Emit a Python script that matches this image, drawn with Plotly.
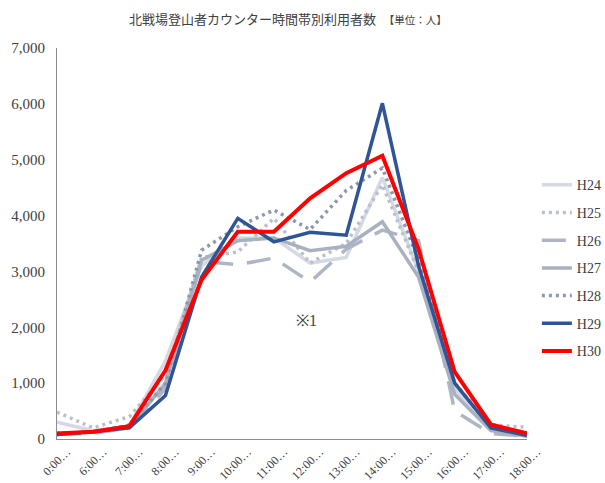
import plotly.graph_objects as go

categories = ["0:00…", "6:00…", "7:00…", "8:00…", "9:00…", "10:00…", "11:00…",
              "12:00…", "13:00…", "14:00…", "15:00…", "16:00…", "17:00…", "18:00…"]

H24 = [300, 150, 230, 1400, 3100, 3600, 3600, 3150, 3250, 4680, 3000, 900, 200, 60]
H25 = [480, 200, 400, 1150, 3250, 3350, 3950, 3150, 3500, 4550, 3000, 1000, 250, 210]
H26 = [80, 100, 200, 900, 3180, 3120, 3240, 2810, 3400, 3740, 3550, 500, 100, 50]
H27 = [100, 130, 200, 1000, 3200, 3550, 3600, 3370, 3450, 3890, 2900, 800, 150, 50]
H28 = [100, 120, 250, 1000, 3380, 3800, 4100, 3750, 4450, 4850, 3200, 1000, 200, 80]
H29 = [80, 130, 200, 780, 2900, 3950, 3530, 3700, 3650, 6010, 3100, 1000, 200, 60]
H30 = [100, 130, 230, 1230, 2850, 3710, 3710, 4310, 4760, 5070, 3400, 1200, 260, 100]

series = [
    ("H24", H24, "#d5d9e2", "solid", 3.5),
    ("H25", H25, "#b9c0cd", "3px,4px", 3.5),
    ("H26", H26, "#aeb6c6", "24px,14px", 3.5),
    ("H27", H27, "#a9b1c1", "solid", 3.5),
    ("H28", H28, "#8e98ac", "3px,4px", 3.5),
    ("H29", H29, "#2f5597", "solid", 3.5),
    ("H30", H30, "#ff0000", "solid", 4),
]

serif = "Liberation Serif, DejaVu Serif, serif"

fig = go.Figure()
for name, vals, color, dash, w in series:
    fig.add_trace(go.Scatter(
        x=categories, y=vals, name=name, mode="lines",
        line=dict(color=color, dash=dash, width=w),
        legendgroup=name,
    ))

fig.update_layout(
    width=605, height=483,
    margin=dict(l=57, r=78, t=48, b=44, autoexpand=False),
    paper_bgcolor="white", plot_bgcolor="white",
    font=dict(family=serif, size=14, color="#404040"),
    showlegend=True,
    legend=dict(x=1.021, y=0.69, xanchor="left", yanchor="top",
                font=dict(family=serif, size=14, color="#404040"),
                tracegroupgap=6.5, itemwidth=30, bgcolor="rgba(0,0,0,0)"),
    xaxis=dict(type="category", showline=True, linecolor="#8c8c8c", linewidth=1,
               showgrid=False, ticks="", tickangle=-45,
               ticklabelshift=10, ticklabelstandoff=0,
               tickfont=dict(family=serif, size=12, color="#404040"),
               automargin=False),
    yaxis=dict(range=[0, 7000], dtick=1000, tickformat=",d", showline=True,
               linecolor="#8c8c8c", linewidth=1, showgrid=False, ticks="",
               zeroline=False, ticklabelstandoff=8,
               tickfont=dict(family=serif, size=15, color="#404040"),
               automargin=False),
    annotations=[
        dict(text="北戦場登山者カウンター時間帯別利用者数　<span style='font-size:10.5px'>【単位：人】</span>",
             xref="paper", yref="paper", x=0.5, y=1.0, yshift=30, xshift=-4,
             xanchor="center", yanchor="middle", showarrow=False,
             font=dict(family="Noto Sans CJK JP", size=13, color="#404040")),
        dict(text="※1", xref="x", yref="y", x="12:00…", y=2130,
             showarrow=False, xshift=-4,
             font=dict(family=serif, size=16, color="#404040")),
    ],
)

fig.write_html("out.html", config={"displayModeBar": False},
               post_script="document.body.style.margin='0';document.body.style.overflow='hidden';")
